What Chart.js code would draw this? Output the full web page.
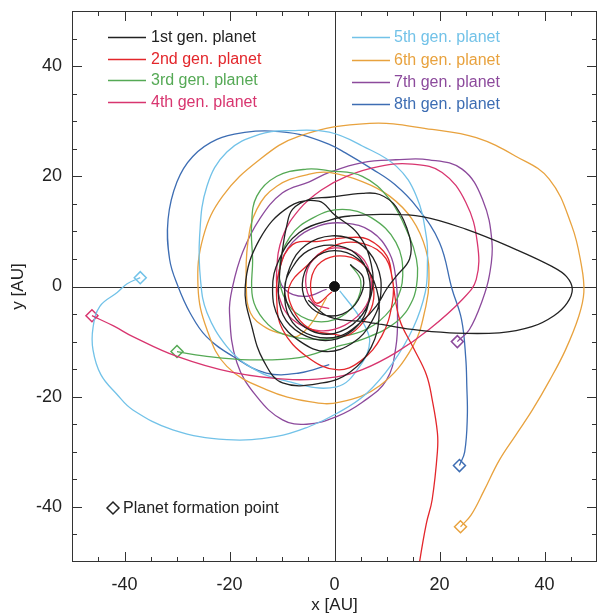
<!DOCTYPE html>
<html><head><meta charset="utf-8">
<script src="https://cdn.jsdelivr.net/npm/chart.js@4.4.0/dist/chart.umd.min.js"></script>
<style>html,body{margin:0;padding:0;background:#fff;}canvas{display:block;}</style>
</head><body>
<canvas id="c" width="598" height="613"></canvas>
<script>
// ---- data ----
const seriesNames = ['1st gen. planet','2nd gen. planet','3rd gen. planet','4th gen. planet',
                     '5th gen. planet','6th gen. planet','7th gen. planet','8th gen. planet'];
const seriesColors = ['#222222','#e3262b','#55a955','#d8356f','#72c2e8','#e8a23e','#8c4a9c','#3d6db3'];

const gen1 = [[-5,-2.5],[-1,-5.5],[6.7,-6.5],[14.8,-7.8],[21.9,-8.4],[31.4,-8.4],[37.6,-7.3],[41.8,-5.3],[44.3,-3],[45.3,-0.5],[44.2,1.8],[41.5,3.6],[34.6,6.7],[25,10.4],[16.7,12.7],[9.1,13.1],[3,12.8],[-0.4,12.2],[-6.7,9.8],[-10.5,5],[-11.8,-0.5],[-10.5,-6],[-6.5,-10],[-1.5,-11.8],[3.5,-10.2],[7,-6.5],[8.8,-1.5],[8,4],[4.5,8],[-0.5,9.2],[-5.5,7.5],[-8.5,3.5],
  [-9.5,-2],[-8,-6.5],[-4,-9],[1,-9],[5,-6.5],[8,-3.5],[9.9,-0.5],[11.7,1.8],[14.3,5],[14.3,9],[11.7,14.5],[8.6,16.7],[5.3,16.9],[-1,16.2],[-4.8,15.8],[-8,14],[-9.1,11],[-9.9,6.7],[-10.5,1.8],[-10.5,-3],[-8.5,-7],[-4,-9.5],[0.5,-9.5],[4.5,-7],[6.5,-3],[6.5,2],[4,6],[-0.5,7.5],[-5,6.5],[-8,3.5],[-9.5,-0.5],
  [-8,-5],[-4.5,-8],[0,-8.5],[4.5,-6],[7,-1.5],[7,4],[4.5,9.5],[0,13],[-3,15.5],[-8.6,14.5],[-14.3,8.5],[-17,0],[-15.6,-7.8],[-13.5,-13.5],[-9.9,-17.5],[-2.3,-17.5],[3,-15.5],[7,-11],[8.5,-5],[7.5,1],[4.5,5],[0,6.5],[-4,5],[-6,1.5],[-5.5,-2.5],[-2.5,-5],[1.5,-5],[4.5,-2.5],[5.5,1.5],[3,4]];

const gen2 = [[16,-52],[16.2,-50],[17.5,-43],[18.6,-38.7],[19.6,-30],[19.6,-26.5],[18.6,-20.5],[17.5,-16],[14.9,-10.9],[12.4,-6],[11,1.3],[10,5.5],[6.5,8.5],[2.9,8.9],[-3,8.2],[-8,7.6],[-10.5,3],[-11,-2.4],[-9.9,-7.8],[-5.3,-12.7],[0.4,-15.1],[5,-13.5],[9,-9],[11,-3],[11,1.6],[9,6],[4,8],[-1,7],[-5,4],[-8.6,0],[-8,-4],[-5,-7.5],[0,-8.7],[2.9,-8.7],[6.5,-5],[7.5,-1],[6,3.5],[2,5.5],[-2.5,4.5],[-4.5,1],[-3.5,-3],[-0.5,-1]];

const gen3 = [[-30,-11.8],[-25,-12.6],[-16.2,-13.3],[-6.7,-12.9],[0.4,-10.9],[5.3,-9.6],[11.7,-6.5],[14.9,-2.4],[15.8,1.8],[15.6,5],[14.3,9],[10.5,15.8],[5.3,20],[-1,21],[-5.3,21.3],[-11,20],[-14.8,16.4],[-15.8,11],[-15.6,4.9],[-15.6,-2],[-13.5,-6],[-9.9,-8.6],[-3.4,-9.6],[2,-9],[7.5,-7],[11.5,-3],[13,2],[11.7,8],[7,12.5],[1.5,14],[-4,12.5],[-8.5,9],[-10.5,3],[-9,-3],[-5,-6],[0,-6],[4,-3],[5,1],[3,4]];

const gen4 = [[-46.2,-5.3],[-42,-7.2],[-38.4,-9.1],[-30,-12.7],[-19.4,-15.6],[-8,-16.9],[0.4,-16.4],[5.3,-15.1],[11.7,-12],[18,-7.8],[24.3,-2.4],[27,1.3],[27.2,8],[25,15.3],[20.5,20.7],[14.8,22.2],[8.6,21.8],[2.3,20],[-2.5,17.5],[-6.7,14],[-9.9,9],[-11,3],[-10.5,-2],[-8,-6],[-3,-8],[2,-7],[6,-3.5],[7,1],[5,5.5],[0,7],[-4,5],[-5.5,1],[-4,-3],[-1,-4]];

const gen5 = [[-37,1.6],[-39.5,0.5],[-41.4,-1.1],[-44.7,-3.6],[-46,-7.5],[-46,-11.5],[-44.5,-16],[-41.5,-19.5],[-38.4,-22.4],[-30.8,-26],[-20.5,-27.8],[-11,-27.2],[-5,-25.5],[0.5,-23],[6,-19.5],[11,-14],[15,-7.5],[17.3,-1],[17.7,4.4],[17.5,9],[15.6,16.4],[11.8,21.8],[5.3,25.5],[-1,28],[-8,28.3],[-14.3,27.6],[-20.5,24.4],[-24.3,18.2],[-25.7,9],[-25.5,1],[-24.3,-4.7],[-20.5,-10.9],[-16.2,-14.5],[-9.9,-17],[0.4,-18.2],[5.3,-13.8],[6.7,-10],[5.7,-7],[3.8,-4.2],[1,-0.8]];

const gen6 = [[24,-43.6],[26,-41.5],[28.5,-37],[31.4,-31.5],[34.5,-27],[37.7,-22.4],[41,-17],[44,-11.5],[46.5,-5.5],[47.5,-1],[47,4],[45.2,11],[40.9,19.5],[34.6,23.6],[27,27],[18.6,28.5],[6.7,29.6],[-6.7,27.3],[-14.3,23],[-21.3,16.4],[-25,9],[-26,0],[-24.3,-7.8],[-20.5,-14.5],[-13,-18.7],[-4.8,-20.9],[1,-21],[8.6,-18],[14.9,-10.9],[17.4,-3.6],[18,1.3],[17.4,6.7],[14.8,12.2],[10.5,16.4],[5.4,19],[-1,20.7],[-4.8,20.4],[-11,18.2],[-14.8,14],[-16.5,8],[-16.8,0],[-16,-4.8],[-13,-7.5],[-9,-8.8],[-7,-9],[-4.4,-6.7],[-1.5,-2]];

const gen7 = [[23.4,-10],[25.7,-7.8],[28.2,-2.4],[29.5,2],[30,8],[28.2,15.8],[24.3,21.3],[18,23],[11.7,23],[5.3,22.5],[-1,20.7],[-4.8,19],[-9.9,17],[-14.3,12.2],[-17.5,6.2],[-19.4,0],[-20,-4.7],[-18.6,-13.8],[-14.8,-20],[-9.9,-24.2],[-5.3,-25],[0.4,-23.6],[5.3,-21],[9.9,-17],[11.7,-10.9],[12,-4.7],[11.7,1.3],[10.5,6],[7,10],[2,11.5],[-3,11],[-8,8],[-10.5,3],[-9.5,-0.5],[-5.7,-1.8],[-1.5,-0.5]];

const gen8 = [[23.8,-32.5],[24.8,-30],[25.3,-23.6],[25.2,-18],[25,-13],[24.2,-6],[22.4,-0.5],[20,8],[15.6,14.5],[11.5,18.5],[7.2,21.3],[2,24.3],[-1,25.8],[-6.7,27.6],[-12,28.2],[-16.7,28],[-22.4,26.7],[-27,23.6],[-30,19],[-31.7,12.2],[-31.4,4.9],[-29.8,0],[-27.5,-4.8],[-24.4,-9.1],[-19.3,-12.7],[-13,-15.7],[-6.7,-15.7],[-1,-14.2]];

const formationX = [-30, -46.2, -37, 24, 23.4, 23.8];
const formationY = [-11.8, -5.3, 1.6, -43.6, -10, -32.5];
const formationSeries = [2, 3, 4, 5, 6, 7];
const starX = [0], starY = [0];
const xTickValues = [-40,-20,0,20,40];
const yTickValues = [-40,-20,0,20,40];
const axisMin = -50, axisMax = 50;
const xTitle = 'x [AU]', yTitle = 'y [AU]';
const markerLegend = 'Planet formation point';

// ---- build ----
const allSeries = [gen1,gen2,gen3,gen4,gen5,gen6,gen7,gen8];
const FONT = "'Liberation Sans', Arial, Helvetica, sans-serif";
const datasets = allSeries.map((s,i)=>({
  label: seriesNames[i],
  data: s.map(p=>({x:p[0],y:p[1]})),
  showLine: true, borderColor: seriesColors[i], backgroundColor: seriesColors[i],
  borderWidth: 1.3, pointRadius: 0, tension: 0.4, fill:false
}));
datasets.push({
  label:'formation',
  data: formationX.map((x,i)=>({x, y: formationY[i]})),
  showLine:false, pointStyle:'rectRot', pointRadius:6,
  pointBorderColor: formationSeries.map(i=>seriesColors[i]),
  pointBackgroundColor:'rgba(255,255,255,0)', pointBorderWidth:1.5
});
datasets.push({
  label:'star', data: starX.map((x,i)=>({x,y:starY[i]})),
  showLine:false, pointRadius:5, pointBackgroundColor:'#111', pointBorderColor:'#111'
});

const zeroPad = s => { s.paddingTop=0; s.paddingBottom=0; s.paddingLeft=0; s.paddingRight=0; };

const framePlugin = {
  id:'frame',
  beforeDatasetsDraw(chart){
    const {ctx, chartArea:a, scales:{x,y}} = chart;
    ctx.save();
    ctx.strokeStyle='#333'; ctx.lineWidth=1;
    const x0 = Math.round(x.getPixelForValue(0))+0.5, y0 = Math.round(y.getPixelForValue(0))+0.5;
    ctx.beginPath(); ctx.moveTo(x0,a.top); ctx.lineTo(x0,a.bottom);
    ctx.moveTo(a.left,y0); ctx.lineTo(a.right,y0); ctx.stroke();
    ctx.restore();
  },
  afterDatasetsDraw(chart){
    const {ctx, chartArea:a, scales:{x,y}} = chart;
    ctx.save();
    ctx.strokeStyle='#333'; ctx.lineWidth=1;
    ctx.strokeRect(a.left+0.5,a.top+0.5,a.right-a.left-1,a.bottom-a.top-1);
    ctx.beginPath();
    for(let v=-45; v<=45; v+=5){
      const L = (v%20===0)?10:5;
      const px = Math.round(x.getPixelForValue(v))+0.5;
      ctx.moveTo(px,a.bottom); ctx.lineTo(px,a.bottom-L);
      ctx.moveTo(px,a.top); ctx.lineTo(px,a.top+L);
      const py = Math.round(y.getPixelForValue(v))+0.5;
      ctx.moveTo(a.left,py); ctx.lineTo(a.left+L,py);
      ctx.moveTo(a.right,py); ctx.lineTo(a.right-L,py);
    }
    ctx.stroke();
    // legend
    ctx.font = '16px '+FONT; ctx.textBaseline='middle'; ctx.textAlign='left';
    const cols = [{lx:108, tx:151, rows:[37,59,80,102]},{lx:352, tx:394, rows:[37,60,82,104]}];
    for(let i=0;i<8;i++){
      const c = cols[Math.floor(i/4)], ry = c.rows[i%4];
      ctx.strokeStyle=seriesColors[i]; ctx.lineWidth=1.3;
      ctx.beginPath(); ctx.moveTo(c.lx,ry+0.5); ctx.lineTo(c.lx+38,ry+0.5); ctx.stroke();
      ctx.fillStyle=seriesColors[i]; ctx.fillText(seriesNames[i], c.tx, ry+1);
    }
    // marker legend
    ctx.strokeStyle='#222'; ctx.lineWidth=1.5;
    const mx=113, my=508, r=6;
    ctx.beginPath(); ctx.moveTo(mx-r,my); ctx.lineTo(mx,my-r); ctx.lineTo(mx+r,my); ctx.lineTo(mx,my+r); ctx.closePath(); ctx.stroke();
    ctx.fillStyle='#222'; ctx.fillText(markerLegend, 123, my+1);
    ctx.restore();
  }
};

new Chart(document.getElementById('c'), {
  type:'scatter',
  data:{datasets},
  options:{
    responsive:false, animation:false, devicePixelRatio:1,
    layout:{autoPadding:false, padding:{top:11,right:1,left:0,bottom:0}},
    plugins:{legend:{display:false}, tooltip:{enabled:false}},
    scales:{
      x:{type:'linear', min:axisMin, max:axisMax,
         afterBuildTicks:s=>{s.ticks = xTickValues.map(v=>({value:v}));},
         afterFit:s=>{s.height=51; zeroPad(s);},
         grid:{display:false, drawTicks:false}, border:{display:false},
         ticks:{color:'#222', font:{size:18, family:FONT}, padding:12, maxRotation:0},
         title:{display:true, text:xTitle, color:'#222', font:{size:17, family:FONT}, padding:{top:0,bottom:-3}}},
      y:{type:'linear', min:axisMin, max:axisMax,
         afterBuildTicks:s=>{s.ticks = yTickValues.map(v=>({value:v}));},
         afterFit:s=>{s.width=72; zeroPad(s);},
         grid:{display:false, drawTicks:false}, border:{display:false},
         ticks:{color:'#222', font:{size:18, family:FONT}, padding:10},
         title:{display:true, text:yTitle, color:'#222', font:{size:17, family:FONT}, padding:{top:8,bottom:0}}}
    }
  },
  plugins:[framePlugin]
});
</script>
</body></html>
